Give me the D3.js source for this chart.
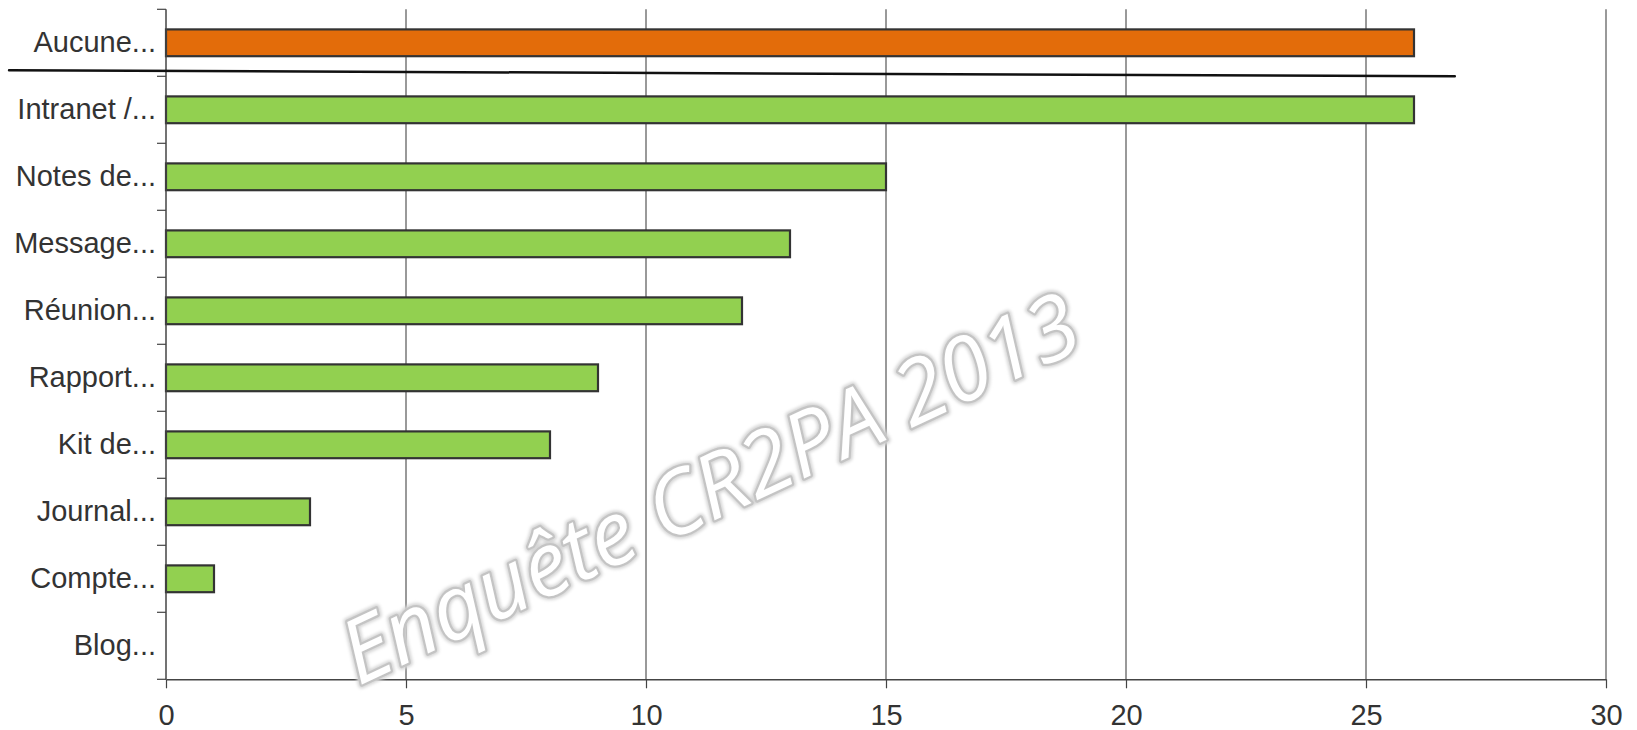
<!DOCTYPE html>
<html>
<head>
<meta charset="utf-8">
<script src="https://cdn.jsdelivr.net/npm/d3@7"></script>
<style>
  body { margin: 0; background: #fff; }
  svg { display: block; }
</style>
</head>
<body>
<script>
const categories = ['Aucune...', 'Intranet /...', 'Notes de...', 'Message...', 'Réunion...',
  'Rapport...', 'Kit de...', 'Journal...', 'Compte...', 'Blog...'];
const values = [26, 26, 15, 13, 12, 9, 8, 3, 1, 0];
const highlighted = ['Aucune...'];
const xTicks = [0, 5, 10, 15, 20, 25, 30];
const watermark = 'Enquête CR2PA 2013';

const width = 1637;
const height = 730;
const margin = { top: 9.3, right: 31, bottom: 50.7, left: 166 };

const x = d3.scaleLinear()
  .domain([0, 30])
  .range([margin.left, width - margin.right]);

const y = d3.scaleBand()
  .domain(categories)
  .range([margin.top, height - margin.bottom])
  .paddingInner(0.6)
  .paddingOuter(0.3);

const svg = d3.select('body')
  .append('svg')
  .attr('width', width)
  .attr('height', height)
  .style('font-family', '"Liberation Sans", Arial, sans-serif');

const [y0, y1] = y.range();

// vertical grid lines
svg.append('g')
  .selectAll('line')
  .data(xTicks.slice(1))
  .join('line')
    .attr('x1', d => x(d))
    .attr('x2', d => x(d))
    .attr('y1', y0)
    .attr('y2', y1)
    .attr('stroke', '#555')
    .attr('stroke-width', 1.2);

// bars
svg.append('g')
  .selectAll('rect')
  .data(categories.map((c, i) => ({ c, v: values[i] })).filter(d => d.v > 0))
  .join('rect')
    .attr('x', x(0))
    .attr('y', d => y(d.c))
    .attr('width', d => x(d.v) - x(0))
    .attr('height', y.bandwidth())
    .attr('fill', d => highlighted.includes(d.c) ? '#e36c0a' : '#92d050')
    .attr('stroke', '#333')
    .attr('stroke-width', 2.2);

// x axis
const xAxis = svg.append('g')
  .attr('transform', `translate(0,${y1})`)
  .call(d3.axisBottom(x).tickValues(xTicks).tickSize(9).tickPadding(16).tickSizeOuter(0));
xAxis.select('.domain').attr('stroke', '#444').attr('stroke-width', 1.5);
xAxis.selectAll('.tick line').attr('stroke', '#444').attr('stroke-width', 1.2);
xAxis.selectAll('.tick text')
  .attr('fill', '#333')
  .style('font-size', '29px')
  .style('font-family', '"Liberation Sans", Arial, sans-serif');

// y axis: labels centred on bands, ticks at band boundaries
const yAxis = svg.append('g')
  .attr('transform', `translate(${x(0)},0)`)
  .call(d3.axisLeft(y).tickSize(0).tickPadding(10));
yAxis.select('.domain').remove();
yAxis.selectAll('.tick text')
  .attr('fill', '#333')
  .style('font-size', '29px')
  .style('font-family', '"Liberation Sans", Arial, sans-serif');

svg.append('line')
  .attr('x1', x(0)).attr('x2', x(0))
  .attr('y1', y0).attr('y2', y1)
  .attr('stroke', '#444')
  .attr('stroke-width', 1.5);

svg.append('g')
  .selectAll('line')
  .data(d3.range(categories.length + 1))
  .join('line')
    .attr('x1', x(0) - 9)
    .attr('x2', x(0))
    .attr('y1', i => y0 + i * y.step())
    .attr('y2', i => y0 + i * y.step())
    .attr('stroke', '#444')
    .attr('stroke-width', 1.2);

// hand-drawn separator under the first bar
const sepY = y0 + y.step();
svg.append('line')
  .attr('x1', x(-3.27))
  .attr('x2', x(26.85))
  .attr('y1', sepY - 6)
  .attr('y2', sepY)
  .attr('stroke', '#111')
  .attr('stroke-width', 2.5)
  .attr('stroke-linecap', 'round');

// watermark
const defs = svg.append('defs');
defs.append('filter')
  .attr('id', 'soft')
  .attr('x', '-10%').attr('y', '-10%').attr('width', '120%').attr('height', '120%')
  .append('feGaussianBlur')
  .attr('stdDeviation', 1.8);

const wm = svg.append('g')
  .attr('transform', `translate(${x(11.3)},${y(categories[6]) + 54}) rotate(-25)`)
  .attr('text-anchor', 'middle')
  .attr('dominant-baseline', 'central')
  .style('font-family', '"Open Sans", sans-serif')
  .style('font-style', 'italic')
  .style('font-weight', 400)
  .style('font-size', '88px');

wm.append('text')
  .attr('fill', 'none')
  .attr('stroke', '#d6d6d6')
  .attr('stroke-width', 8)
  .attr('stroke-linejoin', 'round')
  .attr('filter', 'url(#soft)')
  .text(watermark);

wm.append('text')
  .attr('fill', '#fff')
  .attr('stroke', '#c4c4c4')
  .attr('stroke-width', 4.5)
  .attr('stroke-linejoin', 'round')
  .attr('paint-order', 'stroke')
  .text(watermark);
</script>
</body>
</html>
